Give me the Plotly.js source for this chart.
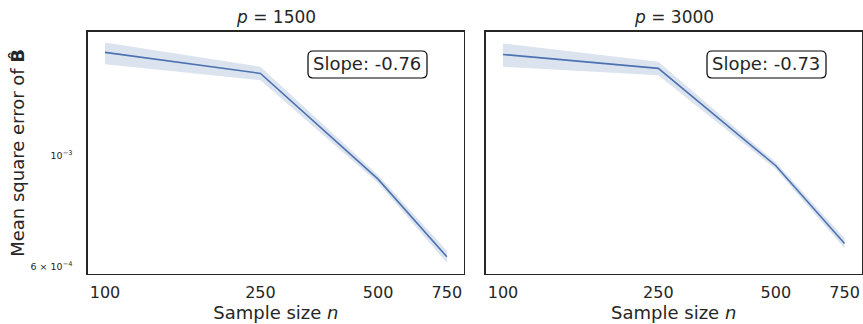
<!DOCTYPE html>
<html>
<head>
<meta charset="utf-8">
<script src="https://cdn.plot.ly/plotly-3.0.1.min.js"></script>
<style>
  html, body { margin: 0; padding: 0; background: #fff; }
  #chart { width: 863px; height: 324px; }
</style>
</head>
<body>
<div id="chart"></div>
<script>
// Sample sizes shared by both panels
const sampleSizes = [100, 250, 500, 750];

// p = 1500: mean, lower and upper band of the mean square error
const mse1500 = [1.609e-3, 1.461e-3, 8.98e-4, 6.28e-4];
const lo1500  = [1.523e-3, 1.416e-3, 8.82e-4, 6.11e-4];
const hi1500  = [1.684e-3, 1.506e-3, 9.15e-4, 6.46e-4];

// p = 3000
const mse3000 = [1.594e-3, 1.495e-3, 9.55e-4, 6.68e-4];
const lo3000  = [1.506e-3, 1.449e-3, 9.40e-4, 6.53e-4];
const hi3000  = [1.677e-3, 1.541e-3, 9.70e-4, 6.84e-4];

const panelTitles = ['<i>p</i> = 1500', '<i>p</i> = 3000'];
const slopeLabels = ['Slope: -0.76', 'Slope: -0.73'];

const xTickVals = [100, 250, 500, 750];
const xTickText = ['100', '250', '500', '750'];
const yTickVals = [6e-4, 1e-3];
const yTickText = ['6 × 10<sup>−4</sup>', '10<sup>−3</sup>'];

const W = 863, H = 324;
const lineColor = '#4c72b0';
const bandColor = 'rgba(76,114,176,0.2)';
const ink = '#262626';
const font = 'DejaVu Sans, sans-serif';

function band(x, lo, hi, xa, ya) {
  return {
    x: x.concat(x.slice().reverse()),
    y: hi.concat(lo.slice().reverse()),
    xaxis: xa, yaxis: ya,
    type: 'scatter', mode: 'lines', fill: 'toself',
    fillcolor: bandColor, line: { width: 0 },
    hoverinfo: 'skip', showlegend: false
  };
}
function line(x, y, xa, ya) {
  return {
    x: x, y: y, xaxis: xa, yaxis: ya,
    type: 'scatter', mode: 'lines',
    line: { color: lineColor, width: 1.6 },
    showlegend: false
  };
}

const data = [
  band(sampleSizes, lo1500, hi1500, 'x', 'y'),
  line(sampleSizes, mse1500, 'x', 'y'),
  band(sampleSizes, lo3000, hi3000, 'x2', 'y2'),
  line(sampleSizes, mse3000, 'x2', 'y2')
];

const xRange = [1.9557, 2.919];
const yRange = [-3.2364, -2.752];

function xAxis(domain, anchor) {
  return {
    type: 'log', range: xRange, domain: domain, anchor: anchor,
    tickvals: xTickVals, ticktext: xTickText, ticks: '',
    ticklabelstandoff: 3,
    tickfont: { family: font, size: 16, color: ink },
    showgrid: false, zeroline: false,
    showline: true, mirror: true, linecolor: ink, linewidth: 1.3,
    title: { text: 'Sample size <i>n</i>', font: { family: font, size: 18, color: ink }, standoff: 6 },
    automargin: false
  };
}
function yAxis(anchor, showLabels) {
  return {
    type: 'log', range: yRange, domain: [0.1543, 0.9022], anchor: anchor,
    tickvals: yTickVals, ticktext: yTickText, ticks: '',
    showticklabels: showLabels,
    ticklabelstandoff: 12,
    tickfont: { family: font, size: 9.5, color: ink },
    showgrid: false, zeroline: false,
    showline: true, mirror: true, linecolor: ink, linewidth: 1.3,
    automargin: false
  };
}

// Rounded frame around a slope label, given in pixel coordinates of the figure
function roundedBox(x0, y0, x1, y1, r) {
  const px = v => (v / W).toFixed(5);
  const py = v => (1 - v / H).toFixed(5);
  const path =
    `M ${px(x0 + r)},${py(y0)} L ${px(x1 - r)},${py(y0)} Q ${px(x1)},${py(y0)} ${px(x1)},${py(y0 + r)} ` +
    `L ${px(x1)},${py(y1 - r)} Q ${px(x1)},${py(y1)} ${px(x1 - r)},${py(y1)} ` +
    `L ${px(x0 + r)},${py(y1)} Q ${px(x0)},${py(y1)} ${px(x0)},${py(y1 - r)} ` +
    `L ${px(x0)},${py(y0 + r)} Q ${px(x0)},${py(y0)} ${px(x0 + r)},${py(y0)} Z`;
  return {
    type: 'path', xref: 'paper', yref: 'paper', path: path,
    line: { color: '#000', width: 1.2 }, fillcolor: 'rgba(255,255,255,0.9)', layer: 'above'
  };
}

const layout = {
  width: W, height: H,
  margin: { l: 0, r: 0, t: 0, b: 0 },
  paper_bgcolor: '#fff', plot_bgcolor: '#fff',
  font: { family: font, color: ink },
  xaxis: xAxis([0.1016, 0.5377], 'y'),
  yaxis: Object.assign(yAxis('x', true), {
    title: { text: 'Mean square error of <b>B̂</b>', font: { family: font, size: 18, color: ink }, standoff: 1 }
  }),
  xaxis2: xAxis([0.5628, 0.9985], 'y2'),
  yaxis2: yAxis('x2', false),
  shapes: [
    roundedBox(308, 51, 427, 78, 5),
    roundedBox(707, 51, 826, 78, 5)
  ],
  annotations: [
    { text: panelTitles[0], xref: 'x domain', yref: 'paper', x: 0.5, y: 0.947,
      xanchor: 'center', yanchor: 'middle', showarrow: false,
      font: { family: font, size: 17, color: ink } },
    { text: panelTitles[1], xref: 'x2 domain', yref: 'paper', x: 0.5, y: 0.947,
      xanchor: 'center', yanchor: 'middle', showarrow: false,
      font: { family: font, size: 17, color: ink } },
    { text: slopeLabels[0], xref: 'x domain', yref: 'y domain', x: 0.742, y: 0.867,
      xanchor: 'center', yanchor: 'middle', showarrow: false,
      font: { family: font, size: 18, color: ink } },
    { text: slopeLabels[1], xref: 'x2 domain', yref: 'y2 domain', x: 0.745, y: 0.867,
      xanchor: 'center', yanchor: 'middle', showarrow: false,
      font: { family: font, size: 18, color: ink } }
  ]
};

Plotly.newPlot('chart', data, layout, { displayModeBar: false, staticPlot: true });
</script>
</body>
</html>
